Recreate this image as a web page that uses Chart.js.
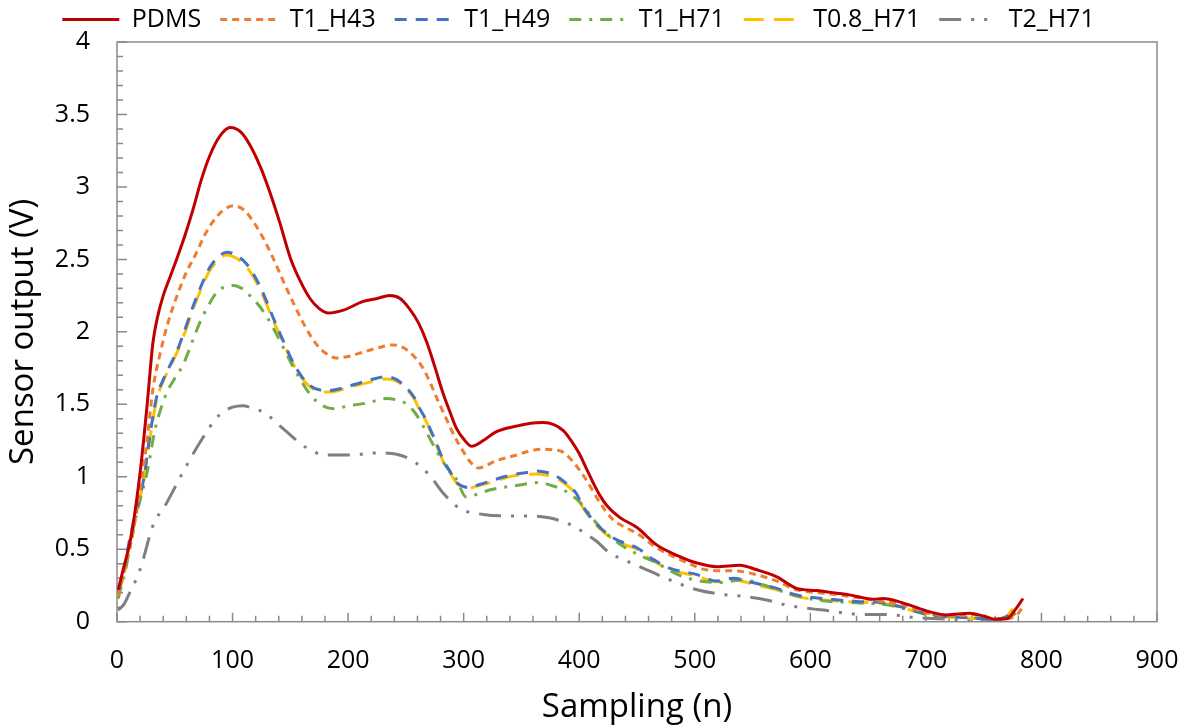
<!DOCTYPE html>
<html>
<head>
<meta charset="utf-8">
<script src="https://cdn.jsdelivr.net/npm/chart.js@4.4.0/dist/chart.umd.min.js"></script>
<style>
  html, body { margin: 0; padding: 0; background: #fff; }
</style>
</head>
<body>
<canvas id="chart" width="1181" height="727"></canvas>
<script>
// Values (sampling index n, sensor output in V)
const pdmsN = [1, 6, 12, 20, 26, 31, 35, 40, 46, 52, 59, 66, 73, 80, 89, 98, 107, 115, 124, 132, 141, 150, 158, 167, 175, 183, 196, 213, 225, 236, 245, 253, 261, 268, 275, 282, 288, 294, 300, 307, 317, 328, 346, 358, 369, 378, 386, 393, 400, 406, 412, 418, 424, 435, 450, 467, 484, 502, 519, 539, 553, 571, 588, 605, 623, 634, 654, 663, 680, 700, 718, 738, 749, 761, 770, 778, 784];
const pdmsV = [0.22, 0.38, 0.58, 1.03, 1.49, 1.92, 2.1, 2.25, 2.38, 2.51, 2.67, 2.85, 3.05, 3.21, 3.35, 3.41, 3.38, 3.29, 3.14, 2.97, 2.75, 2.51, 2.36, 2.23, 2.16, 2.13, 2.15, 2.21, 2.23, 2.25, 2.23, 2.16, 2.06, 1.93, 1.76, 1.58, 1.45, 1.33, 1.26, 1.21, 1.25, 1.31, 1.35, 1.37, 1.375, 1.36, 1.32, 1.25, 1.16, 1.06, 0.96, 0.87, 0.8, 0.72, 0.65, 0.53, 0.46, 0.405, 0.38, 0.39, 0.36, 0.31, 0.23, 0.215, 0.197, 0.185, 0.155, 0.16, 0.13, 0.076, 0.047, 0.058, 0.04, 0.017, 0.02, 0.09, 0.16];

const h43N = [1, 8, 14, 20, 26, 31, 37, 44, 52, 60, 69, 76, 83, 92, 101, 110, 118, 127, 135, 145, 155, 164, 173, 181, 190, 200, 213, 226, 239, 248, 256, 264, 271, 278, 285, 292, 300, 306, 313, 320, 328, 346, 358, 369, 378, 386, 395, 406, 418, 429, 440, 450, 467, 487, 513, 536, 553, 571, 588, 611, 634, 657, 680, 700, 726, 744, 761, 777, 785];
const h43V = [0.18, 0.4, 0.62, 0.91, 1.25, 1.6, 1.84, 2.06, 2.25, 2.41, 2.55, 2.67, 2.76, 2.84, 2.87, 2.84, 2.76, 2.64, 2.51, 2.33, 2.16, 2.02, 1.91, 1.85, 1.82, 1.83, 1.86, 1.89, 1.91, 1.89, 1.84, 1.76, 1.65, 1.52, 1.4, 1.28, 1.17, 1.1, 1.06, 1.08, 1.11, 1.15, 1.18, 1.19, 1.185, 1.17, 1.1, 0.98, 0.82, 0.705, 0.65, 0.61, 0.51, 0.43, 0.355, 0.35, 0.325, 0.28, 0.22, 0.197, 0.175, 0.146, 0.116, 0.062, 0.04, 0.051, 0.017, 0.035, 0.116];

const h49N = [1, 6, 11, 17, 23, 28, 34, 40, 46, 52, 59, 66, 73, 80, 88, 95, 103, 112, 118, 124, 130, 135, 141, 147, 153, 160, 167, 175, 184, 194, 207, 220, 233, 242, 251, 257, 262, 267, 271, 277, 282, 288, 294, 299, 304, 313, 323, 335, 346, 355, 363, 372, 380, 388, 397, 403, 410, 418, 429, 440, 450, 464, 478, 502, 519, 533, 550, 571, 588, 611, 640, 663, 680, 703, 726, 744, 758, 770, 776];
const h49V = [0.2, 0.36, 0.57, 0.78, 0.98, 1.26, 1.54, 1.67, 1.77, 1.87, 2.02, 2.18, 2.32, 2.44, 2.52, 2.55, 2.53, 2.47, 2.4, 2.31, 2.2, 2.1, 1.99, 1.88, 1.78, 1.69, 1.63, 1.6, 1.595, 1.61, 1.64, 1.67, 1.69, 1.67, 1.61, 1.55, 1.47, 1.4, 1.33, 1.22, 1.12, 1.04, 0.96, 0.935, 0.925, 0.945, 0.97, 1.0, 1.02, 1.03, 1.04, 1.03, 1.005, 0.96, 0.89, 0.8, 0.72, 0.65, 0.58, 0.54, 0.51, 0.43, 0.37, 0.325, 0.28, 0.3, 0.27, 0.23, 0.185, 0.16, 0.14, 0.13, 0.1, 0.047, 0.03, 0.024, 0.017, 0.035, 0.07];

const h71N = [1, 8, 14, 20, 26, 33, 38, 43, 50, 57, 66, 72, 79, 86, 93, 101, 108, 115, 122, 130, 137, 144, 151, 158, 167, 176, 187, 201, 217, 233, 242, 251, 258, 265, 271, 277, 285, 294, 302, 312, 323, 346, 366, 376, 386, 394, 401, 410, 418, 428, 438, 452, 467, 490, 522, 542, 559, 579, 605, 617, 640, 666, 686, 706, 726, 747, 761, 773, 781];
const h71V = [0.16, 0.38, 0.635, 0.84, 1.03, 1.33, 1.47, 1.58, 1.68, 1.77, 1.95, 2.07, 2.18, 2.27, 2.31, 2.32, 2.3, 2.25, 2.19, 2.1, 2.0, 1.89, 1.78, 1.68, 1.57, 1.5, 1.47, 1.49, 1.51, 1.54, 1.53, 1.5, 1.44, 1.35, 1.26, 1.17, 1.07, 0.98, 0.86, 0.88, 0.91, 0.94, 0.96, 0.94, 0.91, 0.87, 0.82, 0.73, 0.65, 0.58, 0.52, 0.46, 0.405, 0.31, 0.27, 0.29, 0.255, 0.2, 0.15, 0.14, 0.13, 0.116, 0.08, 0.047, 0.035, 0.024, 0.017, 0.035, 0.08];

const t08N = [1, 6, 11, 17, 23, 28, 34, 40, 46, 52, 59, 66, 73, 80, 88, 95, 103, 112, 118, 124, 130, 135, 141, 147, 153, 160, 167, 175, 184, 194, 207, 220, 233, 242, 251, 257, 262, 267, 271, 277, 282, 288, 294, 299, 304, 313, 323, 335, 346, 355, 363, 372, 380, 388, 397, 403, 410, 418, 429, 440, 450, 464, 478, 502, 519, 533, 550, 571, 588, 611, 640, 663, 680, 703, 726, 744, 758, 770, 776];
const t08V = [0.17, 0.34, 0.55, 0.76, 0.97, 1.24, 1.52, 1.66, 1.76, 1.86, 2.0, 2.16, 2.3, 2.42, 2.5, 2.53, 2.51, 2.45, 2.38, 2.29, 2.18, 2.08, 1.98, 1.87, 1.77, 1.68, 1.62, 1.59, 1.585, 1.6, 1.63, 1.655, 1.675, 1.66, 1.6, 1.54, 1.46, 1.39, 1.32, 1.21, 1.11, 1.03, 0.955, 0.93, 0.92, 0.94, 0.96, 0.99, 1.01, 1.015, 1.02, 1.01, 0.99, 0.95, 0.88, 0.79, 0.71, 0.64, 0.57, 0.53, 0.5, 0.42, 0.36, 0.315, 0.275, 0.29, 0.26, 0.22, 0.175, 0.15, 0.135, 0.125, 0.095, 0.045, 0.03, 0.022, 0.017, 0.04, 0.1];

const t2N = [1, 6, 11, 20, 31, 43, 57, 72, 89, 100, 109, 118, 127, 144, 164, 181, 202, 225, 242, 254, 262, 271, 282, 297, 317, 340, 357, 375, 395, 403, 415, 427, 438, 458, 478, 502, 522, 542, 562, 582, 611, 646, 666, 689, 712, 732, 752, 774];
const t2V = [0.08, 0.12, 0.2, 0.36, 0.66, 0.82, 1.03, 1.24, 1.43, 1.48, 1.49, 1.47, 1.445, 1.33, 1.2, 1.15, 1.15, 1.165, 1.155, 1.12, 1.075, 1.005, 0.89, 0.78, 0.74, 0.73, 0.73, 0.715, 0.66, 0.62, 0.555, 0.47, 0.43, 0.36, 0.29, 0.22, 0.19, 0.175, 0.15, 0.11, 0.08, 0.05, 0.05, 0.03, 0.02, 0.012, 0.012, 0.01];

const seriesNames = ['PDMS', 'T1_H43', 'T1_H49', 'T1_H71', 'T0.8_H71', 'T2_H71'];
const xTicks = [0, 100, 200, 300, 400, 500, 600, 700, 800, 900];
const yTicks = [0, 0.5, 1, 1.5, 2, 2.5, 3, 3.5, 4];

const FONT = 'Open Sans';
const AXIS_COLOR = '#8a8a8a';

function points(ns, vs) {
    return ns.map((n, i) => ({ x: n, y: vs[i] }));
}

function line(label, ns, vs, color, dash) {
    return {
        label: label,
        data: points(ns, vs),
        borderColor: color,
        backgroundColor: color,
        borderWidth: 3,
        borderDash: dash,
        pointRadius: 0,
        cubicInterpolationMode: 'monotone',
        fill: false
    };
}

// legend swatches take the dataset line style (point style would drop the dash)
function legendLabels(chart) {
    const items = Chart.defaults.plugins.legend.labels.generateLabels(chart);
    items.forEach(item => {
        const ds = chart.data.datasets[item.datasetIndex];
        item.lineDash = ds.borderDash;
        item.lineWidth = ds.borderWidth;
        item.strokeStyle = ds.borderColor;
        item.fillStyle = ds.borderColor;
    });
    return items;
}

// frame round the plot plus the small inward tick marks (Excel style)
const axisFrame = {
    id: 'axisFrame',
    beforeDatasetsDraw(chart) {
        const { ctx, chartArea: a, scales: { x, y } } = chart;
        ctx.save();
        ctx.strokeStyle = AXIS_COLOR;
        ctx.lineWidth = 1.5;
        ctx.setLineDash([]);
        ctx.strokeRect(a.left, a.top, a.right - a.left, a.bottom - a.top);
        ctx.beginPath();
        for (let n = 0; n <= 900; n += 20) {
            const px = x.getPixelForValue(n);
            const len = n % 100 === 0 ? 9 : 6;
            ctx.moveTo(px, a.bottom);
            ctx.lineTo(px, a.bottom - len);
        }
        for (let k = 0; k <= 40; k++) {
            const py = y.getPixelForValue(k / 10);
            const len = k % 5 === 0 ? 10 : 6;
            ctx.moveTo(a.left, py);
            ctx.lineTo(a.left + len, py);
        }
        ctx.stroke();
        ctx.restore();
    }
};

const config = {
    type: 'line',
    data: {
        datasets: [
            line(seriesNames[0], pdmsN, pdmsV, '#C00000', []),
            line(seriesNames[1], h43N, h43V, '#ED7D31', [7, 5]),
            line(seriesNames[2], h49N, h49V, '#4472C4', [12, 9]),
            line(seriesNames[3], h71N, h71V, '#70AD47', [12, 8, 3, 8]),
            line(seriesNames[4], t08N, t08V, '#FFC000', [20, 10]),
            line(seriesNames[5], t2N, t2V, '#7F7F7F', [22, 10, 3, 10, 3, 10])
        ]
    },
    options: {
        responsive: false,
        animation: false,
        layout: { padding: { top: -17.5, right: 24, bottom: 0, left: 0 } },
        plugins: {
            tooltip: { enabled: false },
            legend: {
                position: 'top',
                labels: {
                    usePointStyle: true,
                    pointStyle: 'line',
                    pointStyleWidth: 57,
                    padding: 19,
                    color: '#000',
                    font: { family: FONT, size: 25 },
                    generateLabels: legendLabels
                }
            }
        },
        scales: {
            x: {
                type: 'linear',
                min: 0,
                max: 900,
                grid: { display: false, drawTicks: false },
                border: { display: false },
                afterBuildTicks: (scale) => { scale.ticks = xTicks.map(v => ({ value: v })); },
                afterFit: (scale) => {
                    scale.height = 105.3;
                    scale.paddingLeft = 0;
                    scale.paddingRight = 0;
                },
                ticks: {
                    padding: 24,
                    color: '#000',
                    font: { family: FONT, size: 25 },
                    maxRotation: 0,
                    callback: (v) => String(v)
                },
                title: {
                    display: true,
                    text: 'Sampling (n)',
                    color: '#000',
                    font: { family: FONT, size: 33 },
                    padding: { top: 0, bottom: 0 }
                }
            },
            y: {
                type: 'linear',
                min: 0,
                max: 4,
                grid: { display: false, drawTicks: false },
                border: { display: false },
                afterBuildTicks: (scale) => { scale.ticks = yTicks.map(v => ({ value: v })); },
                afterFit: (scale) => { scale.width = 117; },
                ticks: {
                    padding: 27,
                    color: '#000',
                    font: { family: FONT, size: 25 },
                    callback: (v) => String(v)
                },
                title: {
                    display: true,
                    text: 'Sensor output (V)',
                    color: '#000',
                    font: { family: FONT, size: 33 },
                    padding: { top: 4, bottom: 0 }
                }
            }
        }
    },
    plugins: [axisFrame]
};

new Chart(document.getElementById('chart'), config);
</script>
</body>
</html>
